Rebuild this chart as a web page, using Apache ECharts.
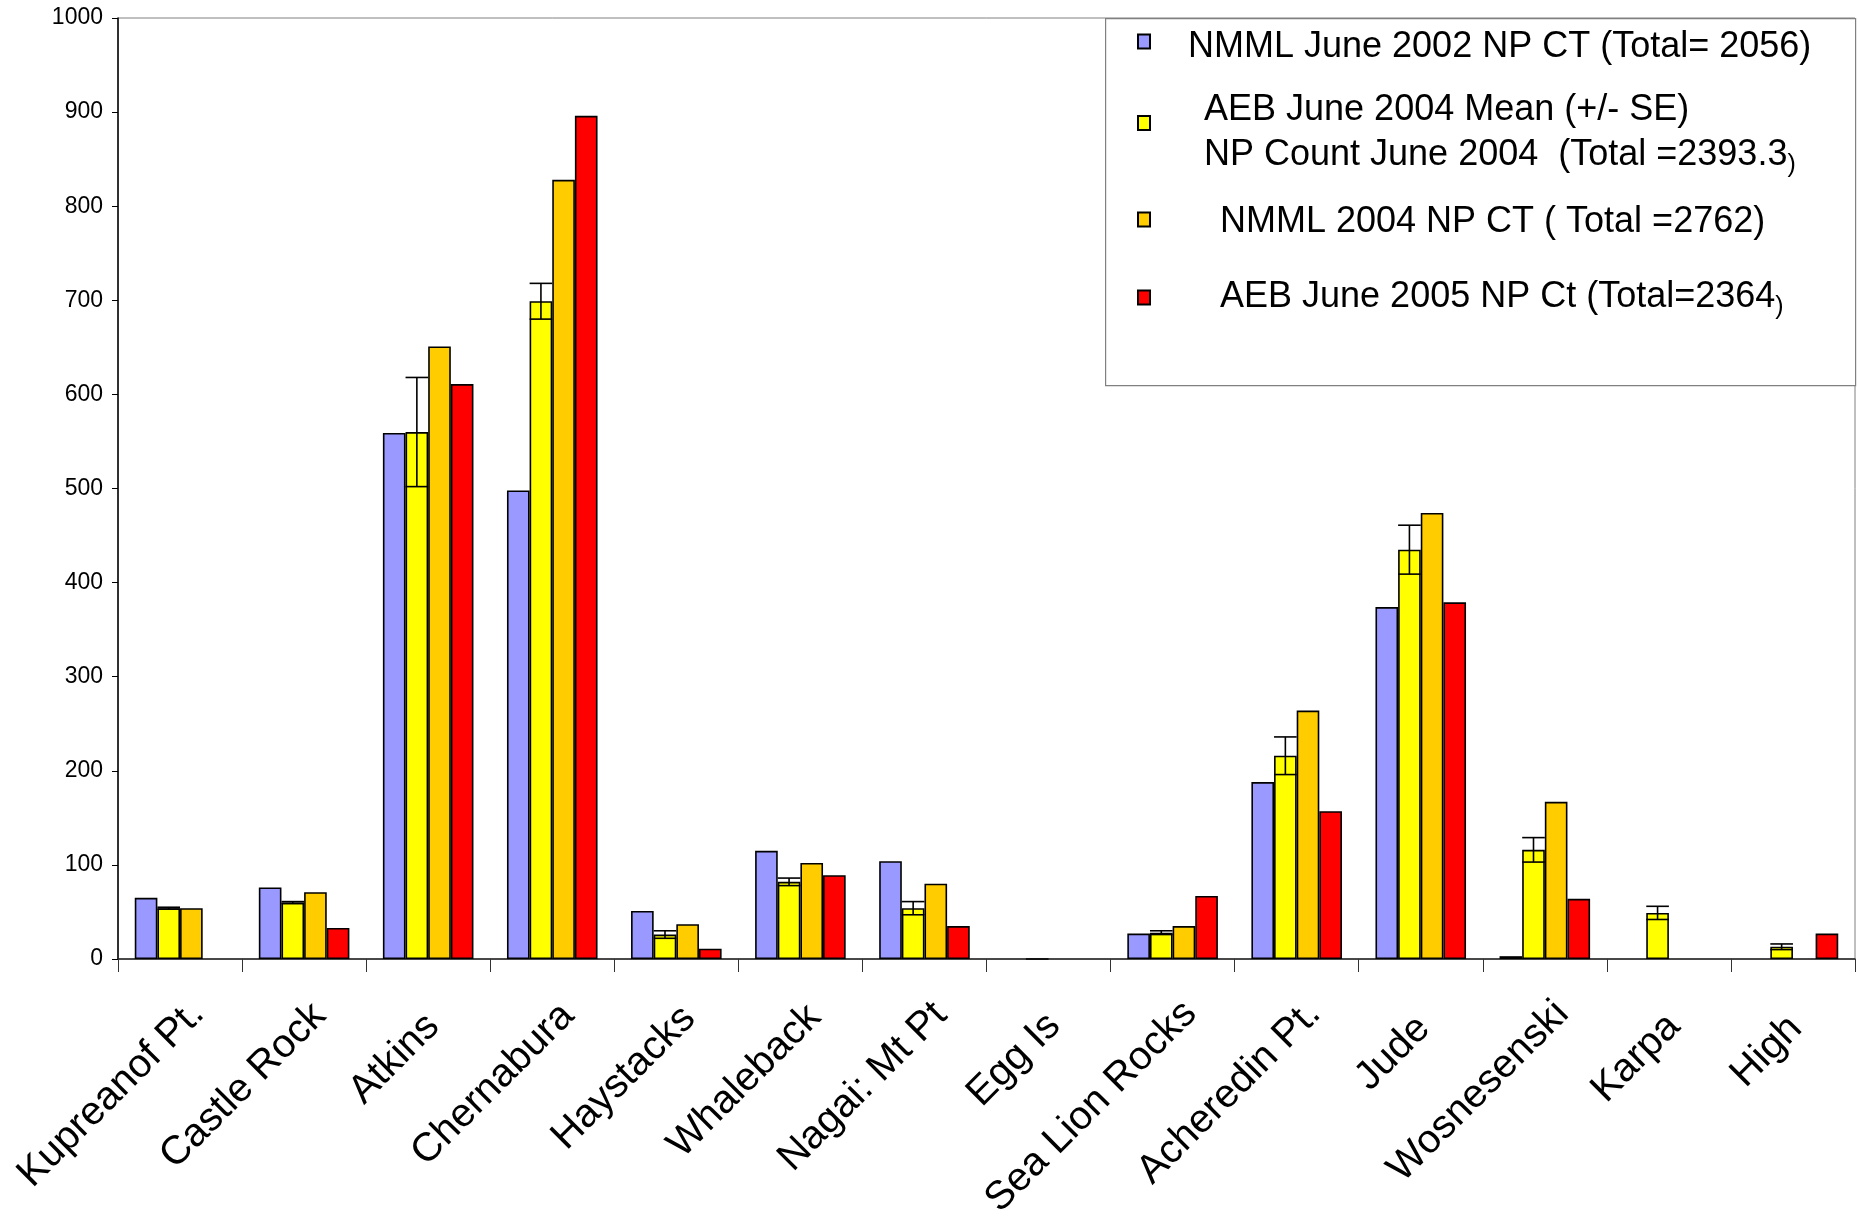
<!DOCTYPE html>
<html><head><meta charset="utf-8">
<script src="https://cdn.jsdelivr.net/npm/echarts/dist/echarts.min.js"></script>
<style>html,body{margin:0;padding:0;background:#fff}#c{width:1858px;height:1216px}</style>
</head><body><div id="c"></div>
<script>
const categories = ['Kupreanof Pt.', 'Castle Rock', 'Atkins', 'Chernabura', 'Haystacks', 'Whaleback', 'Nagai: Mt Pt', 'Egg Is', 'Sea Lion Rocks', 'Acheredin Pt.', 'Jude', 'Wosnesenski', 'Karpa', 'High'];
const seriesNames = [
  'NMML June 2002 NP CT (Total= 2056)',
  'AEB June 2004 Mean (+/- SE)\nNP Count June 2004  (Total =2393.3)',
  'NMML 2004 NP CT ( Total =2762)',
  'AEB June 2005 NP Ct (Total=2364)'
];
const nmml2002 = [65, 76, 559, 498, 51, 115, 104, null, 27, 188, 374, 3, null, null];
const aeb2004Mean = [54, 60, 560, 699, 26, 82, 54, 0, 28, 216, 435, 116, 49, 13];
const aeb2004SE = [1, 1, 58, 19, 4, 4, 7, null, 2, 20, 26, 13, 7, 3];
const nmml2004 = [54, 71, 651, 828, 37, 102, 80, null, 35, 264, 474, 167, null, null];
const aeb2005 = [null, 33, 611, 896, 11, 89, 35, null, 67, 157, 379, 64, null, 27];
const yMin = 0, yMax = 1000, yInterval = 100;

const colors = ['#9999FF', '#FFFF00', '#FFCC00', '#FF0000'];
const FONT = 'Liberation Sans';
const CAT_GAP = 0.27;
const LABEL_SIZE = 40;

const chart = echarts.init(document.getElementById('c'), null, {renderer: 'canvas'});

// Label start-anchoring like the original: shorter labels sit further back along their direction.
const mctx = document.createElement('canvas').getContext('2d');
mctx.font = LABEL_SIZE + 'px "' + FONT + '"';
const labelRich = {};
categories.forEach(function (c, i) {
  const w = mctx.measureText(c).width;
  const pad = Math.max(0, Math.round(0.14 * (235 - w)));
  labelRich['c' + i] = {fontFamily: FONT, fontSize: LABEL_SIZE, color: '#000', lineHeight: 50,
    padding: [0, pad, 0, 0]};
});

function barSeries(i, data) {
  return {
    name: seriesNames[i], type: 'bar', data: data,
    barGap: '0%', barCategoryGap: (CAT_GAP * 100) + '%',
    itemStyle: {color: colors[i], borderColor: '#000', borderWidth: 1.6},
    emphasis: {disabled: true}, z: 2
  };
}

const errData = categories.map((c, i) => [i, aeb2004Mean[i], aeb2004SE[i]]).filter(d => d[2] != null);

function legendFor(i, top, padTop, padLeft) {
  return {
    data: [seriesNames[i]], left: 1137, top: top, padding: 0,
    orient: 'vertical', icon: 'rect', itemWidth: 12, itemHeight: 14,
    selectedMode: false,
    formatter: function (name) {
      if (i === 1 || i === 3) { return name.slice(0, -1) + '{s|)}'; }
      return name;
    },
    textStyle: {fontFamily: FONT, fontSize: 36, color: '#000', lineHeight: 45,
      padding: [padTop, 0, 0, padLeft],
      rich: {s: {fontFamily: FONT, fontSize: 25, color: '#000', lineHeight: 45, verticalAlign: 'bottom'}}}
  };
}

const option = {
  animation: false,
  backgroundColor: '#fff',
  grid: {left: 118, right: 3, top: 18, bottom: 257, show: true, borderColor: '#808080', borderWidth: 1,
    outerBoundsMode: 'none', containLabel: false},
  legend: [
    legendFor(0, 13, 12, 33),
    legendFor(1, 68, 20, 49),
    legendFor(2, 194, 6, 65),
    legendFor(3, 275, 0, 65)
  ],
  graphic: [{
    type: 'rect', left: 1105, top: 18, z: 0,
    shape: {width: 750, height: 367},
    style: {fill: '#fff', stroke: '#808080', lineWidth: 1.2}
  }],
  xAxis: {
    type: 'category', data: categories,
    axisLine: {lineStyle: {color: '#222', width: 1.5}},
    axisTick: {show: true, length: 13, lineStyle: {color: '#333', width: 1}},
    axisLabel: {
      interval: 0, rotate: 45, fontFamily: FONT, fontSize: LABEL_SIZE, color: '#000',
      margin: 31, align: 'right', verticalAlign: 'top', lineHeight: 50,
      formatter: function (v, i) { return '{c' + i + '|' + v + '}'; },
      rich: labelRich
    },
    splitLine: {show: false}
  },
  yAxis: {
    type: 'value', min: yMin, max: yMax, interval: yInterval,
    axisLine: {show: true, lineStyle: {color: '#000', width: 1.5}},
    axisTick: {show: true, length: 6, lineStyle: {color: '#000'}},
    axisLabel: {fontFamily: FONT, fontSize: 23, color: '#000', margin: 15,
      formatter: function (v) { return String(v); }},
    splitLine: {show: false}
  },
  series: [
    barSeries(0, nmml2002),
    barSeries(1, aeb2004Mean),
    barSeries(2, nmml2004),
    barSeries(3, aeb2005),
    {
      type: 'custom', name: 'SE', data: errData, z: 5, silent: true,
      encode: {x: 0, y: 1},
      renderItem: function (params, api) {
        const idx = api.value(0), mean = api.value(1), se = api.value(2);
        const base = api.coord([idx, mean]);
        const hi = api.coord([idx, mean + se]);
        const lo = api.coord([idx, mean - se]);
        const catW = api.size([1, 0])[0];
        const groupW = catW * (1 - CAT_GAP);
        const bw = groupW / 4;
        const cx = base[0] - groupW / 2 + 1.5 * bw;
        const st = {stroke: '#000', lineWidth: 1.6};
        return {type: 'group', children: [
          {type: 'line', shape: {x1: cx, y1: hi[1], x2: cx, y2: lo[1]}, style: st},
          {type: 'line', shape: {x1: cx - bw / 2, y1: hi[1], x2: cx + bw / 2, y2: hi[1]}, style: st},
          {type: 'line', shape: {x1: cx - bw / 2, y1: lo[1], x2: cx + bw / 2, y2: lo[1]}, style: st}
        ]};
      }
    }
  ]
};
chart.setOption(option);
</script></body></html>
